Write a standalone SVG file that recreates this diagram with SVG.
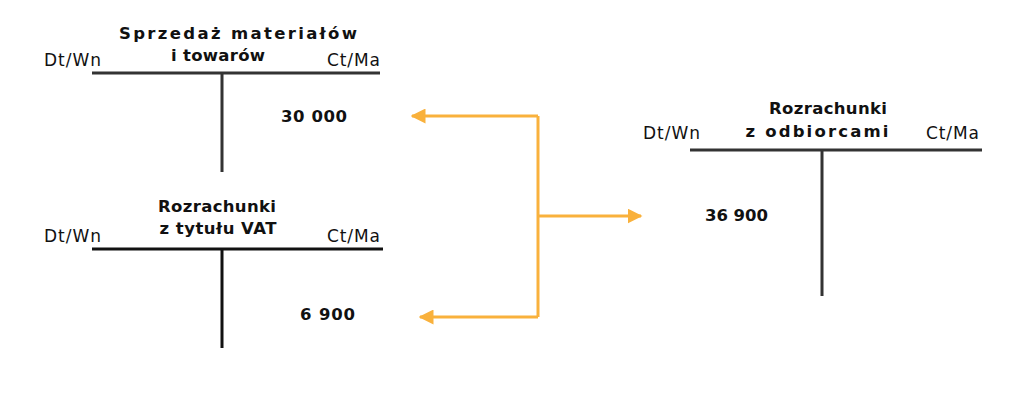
<svg xmlns="http://www.w3.org/2000/svg" width="1024" height="406" viewBox="0 0 1024 406">
<style>
text{font-family:"DejaVu Sans","Liberation Sans",sans-serif;font-size:17px;fill:#111}
.t{font-weight:bold;text-anchor:middle;font-size:16.5px}
.n{font-weight:bold;font-size:16.5px}
.l{stroke:#333;stroke-width:3;fill:none}
.a{stroke:#F9B13C;stroke-width:3;fill:none}
</style>
<defs><marker id="ah" viewBox="0 0 10 10" refX="9" refY="5" markerWidth="5" markerHeight="5" orient="auto"><path d="M0,0L10,5L0,10z" fill="#F9B13C"/></marker></defs>
<rect width="1024" height="406" fill="#fff"/>
<g id="sprzedaz">
<text class="t" x="238" y="39" textLength="238">Sprzedaż materiałów</text>
<text class="t" x="218" y="61" textLength="94">i towarów</text>
<text x="44" y="66" textLength="57">Dt/Wn</text><text x="327" y="66" textLength="53">Ct/Ma</text>
<path class="l" d="M92 73H380M222 73V172"/>
<text class="n" x="281" y="122" textLength="66">30 000</text>
</g>
<g id="vat">
<text class="t" x="217" y="212" textLength="118">Rozrachunki</text>
<text class="t" x="218" y="234" textLength="117">z tytułu VAT</text>
<text x="44" y="242" textLength="57">Dt/Wn</text><text x="327" y="242" textLength="53">Ct/Ma</text>
<path class="l" d="M92 249H383M222 249V348" style="stroke:#111"/>
<text class="n" x="300" y="320" textLength="55">6 900</text>
</g>
<g id="odbiorcy">
<text class="t" x="828" y="114" textLength="118">Rozrachunki</text>
<text class="t" x="817" y="137" textLength="143">z odbiorcami</text>
<text x="643" y="139" textLength="57">Dt/Wn</text><text x="926" y="139" textLength="53">Ct/Ma</text>
<path class="l" d="M690 150H982M822 150V296"/>
<text class="n" x="705" y="221" textLength="63">36 900</text>
</g>
<g id="connectors">
<path class="a" d="M538 116H412" marker-end="url(#ah)"/>
<path class="a" d="M538 317H420" marker-end="url(#ah)"/>
<path class="a" d="M538 116V317"/>
<path class="a" d="M538 216H641" marker-end="url(#ah)"/>
</g>
</svg>
